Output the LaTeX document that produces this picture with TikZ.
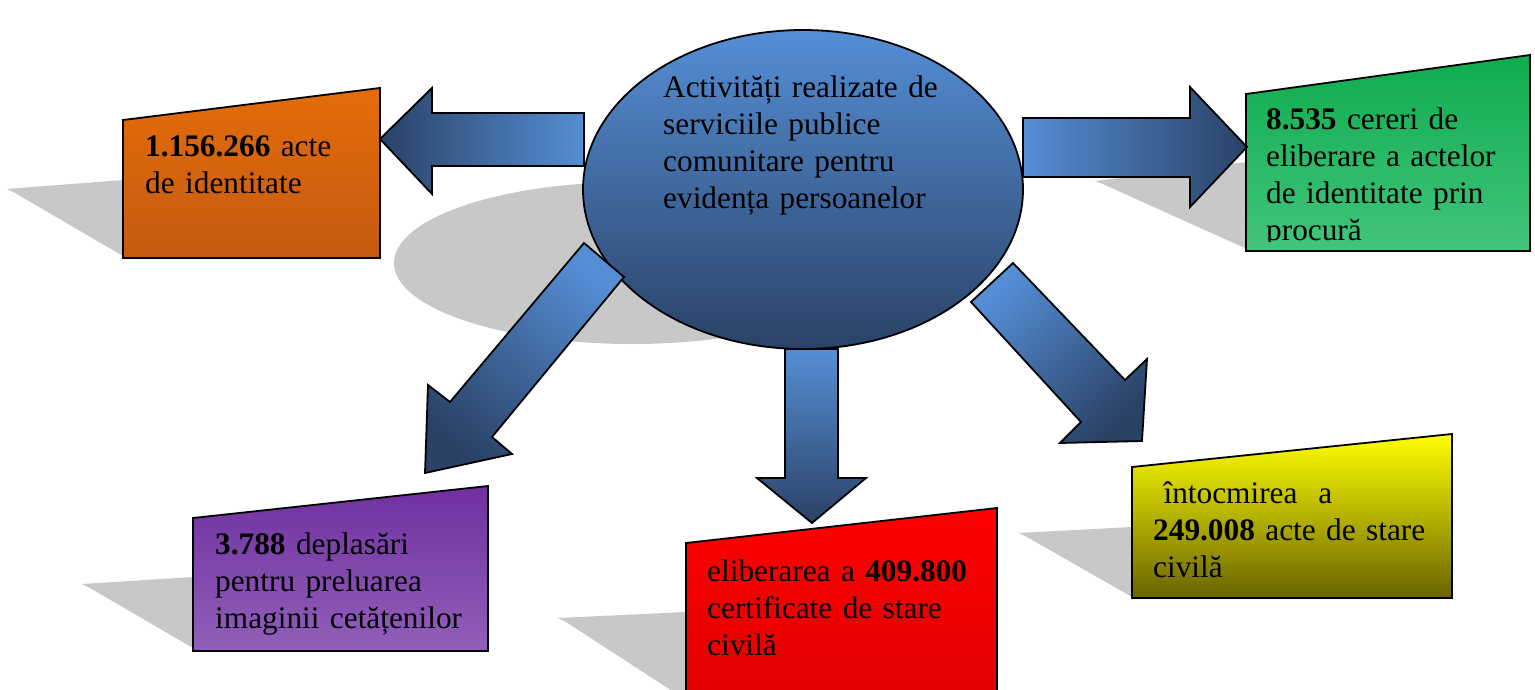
\documentclass[tikz,border=0pt]{standalone}
\usepackage{fontspec}
\setmainfont{Liberation Serif}
\usetikzlibrary{shapes.geometric}
\definecolor{blueL}{RGB}{85,142,213}
\definecolor{blueD}{RGB}{42,66,102}
\definecolor{orT}{RGB}{228,108,10}
\definecolor{orB}{RGB}{196,90,16}
\definecolor{grT}{RGB}{14,172,78}
\definecolor{grB}{RGB}{66,196,124}
\definecolor{puT}{RGB}{112,48,160}
\definecolor{puB}{RGB}{145,95,185}
\definecolor{reT}{RGB}{255,0,0}
\definecolor{reB}{RGB}{225,0,0}
\definecolor{yeT}{RGB}{255,255,0}
\definecolor{yeB}{RGB}{105,100,0}
\definecolor{shad}{RGB}{200,200,200}
\tikzset{
  outl/.style={draw=black, line width=1.8pt, line join=miter},
  shadowpoly/.style={fill=shad, draw=none},
  txt/.style={anchor=base west, inner sep=0pt, text width=420pt, align=left,
              font=\fontsize{31.3}{37}\selectfont},
}
\begin{document}
\begin{tikzpicture}[x=1pt,y=-1pt]
\clip (0,0) rectangle (1535,690);
\fill[white] (0,0) rectangle (1535,690);

% shadows
\fill[shad] (632,263) ellipse [x radius=238, y radius=81];
\path[shadowpoly] (7,189) -- (123,180) -- (123,256) -- (15,193) -- cycle;
\path[shadowpoly] (1095,181) -- (1247,162) -- (1247,249) -- (1105,185) -- cycle;
\path[shadowpoly] (82,584) -- (193,577) -- (193,648) -- (90,588) -- cycle;
\path[shadowpoly] (558,618) -- (686,612) -- (686,700) -- (566,622) -- cycle;
\path[shadowpoly] (1019,533) -- (1132,527) -- (1132,597) -- (1027,537) -- cycle;

% boxes
\path[outl, top color=orT, bottom color=orB] (123,120) -- (380,88) -- (380,258) -- (123,258) -- cycle;
\path[outl, top color=grT, bottom color=grB] (1246,94) -- (1530,55) -- (1530,251) -- (1246,251) -- cycle;
\path[outl, top color=puT, bottom color=puB] (193,518) -- (488,486) -- (488,651) -- (193,651) -- cycle;
\path[outl, top color=reT, bottom color=reB] (686,543) -- (997,508) -- (997,700) -- (686,700) -- cycle;
\path[outl, top color=yeT, bottom color=yeB] (1132,467) -- (1452,434) -- (1452,598) -- (1132,598) -- cycle;

% central ellipse
\node[outl, ellipse, minimum width=440pt, minimum height=319pt, inner sep=0pt,
      top color=blueL, bottom color=blueD] (hub) at (803,189.5) {};

% block arrows
\path[outl, left color=blueD, right color=blueL]
  (380,139) -- (432,88) -- (432,113) -- (584,113) -- (584,166) -- (432,166) -- (432,194) -- cycle;
\path[outl, left color=blueL, right color=blueD]
  (1023,118) -- (1190,118) -- (1190,87) -- (1247,147) -- (1190,207) -- (1190,177) -- (1023,177) -- cycle;
\path[outl, top color=blueL, bottom color=blueD]
  (785,349) -- (838,349) -- (838,478) -- (866,478) -- (812,523) -- (757,478) -- (785,478) -- cycle;
\path[outl, top color=blueL, bottom color=blueD, shading angle=-40]
  (584,243) -- (624,277) -- (492,437) -- (512,454) -- (425,473) -- (428,385) -- (450,402) -- cycle;
\path[outl, top color=blueL, bottom color=blueD, shading angle=43]
  (1013,263) -- (1125,380) -- (1147,359) -- (1142,441) -- (1060,443) -- (1081,422) -- (971,302) -- cycle;

% texts
\node[txt] (hubtext) at (663,98) {Activități realizate de\\serviciile publice\\comunitare pentru\\evidența persoanelor};
\node[txt] (orange) at (145,157) {\textbf{1.156.266} acte\\de identitate};
\begin{scope}
\clip (1246,55) rectangle (1530,241);
\node[txt] (green) at (1266,130) {\textbf{8.535} cereri de\\eliberare a actelor\\de identitate prin\\procură};
\end{scope}
\node[txt] (purple) at (215,554) {\textbf{3.788} deplasări\\pentru preluarea\\imaginii cetățenilor};
\node[txt] (red) at (707,581) {eliberarea a \textbf{409.800}\\certificate de stare\\civilă};
\node[txt] (yellow) at (1153,503) {\ întocmirea\ \ a\\\textbf{249.008} acte de stare\\civilă};
\end{tikzpicture}
\end{document}
